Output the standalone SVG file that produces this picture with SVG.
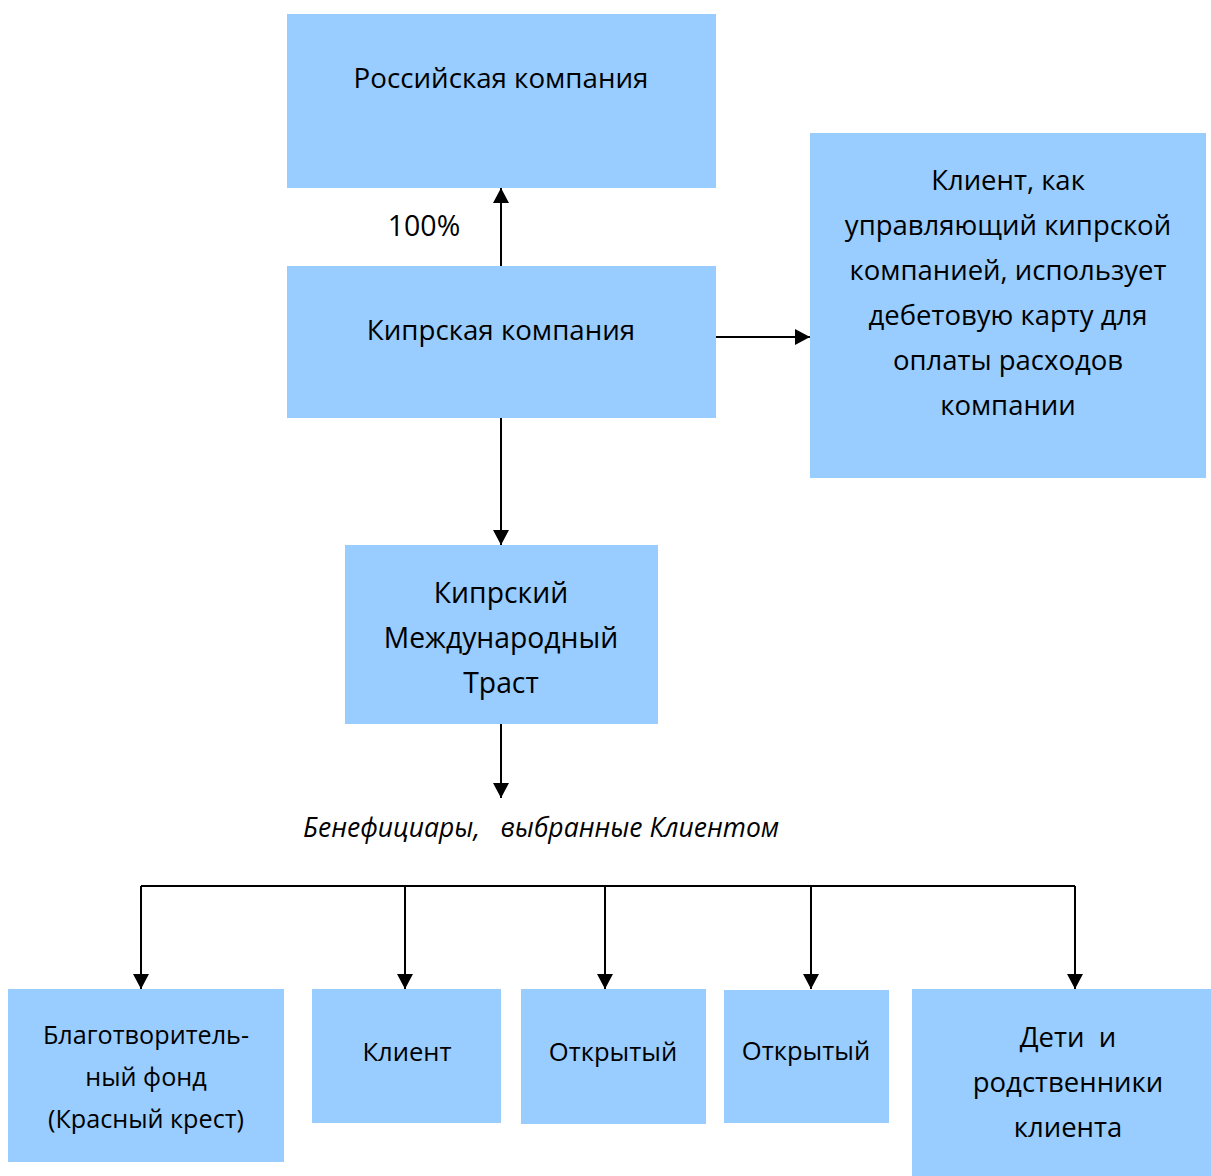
<svg xmlns="http://www.w3.org/2000/svg" width="1211" height="1176" viewBox="0 0 1211 1176">
<style>
.box{fill:#99CCFF}
.t{font-family:"Open Sans","Noto Sans",sans-serif;fill:#000;text-anchor:middle;white-space:pre}
.a{font-size:27.7px}
.r{font-size:27.5px}
.tr{font-size:28.3px}
.c{font-size:25.2px}
.d{font-size:25.6px}
.p{font-size:28.5px}
.i{font-family:"Open Sans","Noto Sans",sans-serif;font-style:italic;font-size:26.5px;white-space:pre}
.ln{stroke:#000;stroke-width:2;fill:none}
</style>
<defs>
<marker id="ar" viewBox="0 0 15 16" refX="15" refY="8" markerWidth="15" markerHeight="16" markerUnits="userSpaceOnUse" orient="auto">
<path d="M0,0 L15,8 L0,16 Z" fill="#000"/>
</marker>
</defs>
<rect width="1211" height="1176" fill="#fff"/>
<g id="n-russian"><rect class="box" x="287" y="14" width="429" height="174"/><text class="t a" x="501" y="88">Российская компания</text></g>
<g id="n-cyprus"><rect class="box" x="287" y="266" width="429" height="152"/><text class="t a" x="501" y="340">Кипрская компания</text></g>
<g id="n-client-mgr"><rect class="box" x="810" y="133" width="396" height="345"/>
<text class="t r" x="1008"><tspan x="1008" y="190">Клиент, как</tspan><tspan x="1008" y="235">управляющий кипрской</tspan><tspan x="1008" y="280">компанией, использует</tspan><tspan x="1008" y="325">дебетовую карту для</tspan><tspan x="1008" y="370">оплаты расходов</tspan><tspan x="1008" y="415">компании</tspan></text></g>
<g id="n-trust"><rect class="box" x="345" y="545" width="313" height="179"/>
<text class="t tr" x="501"><tspan x="501" y="603">Кипрский</tspan><tspan x="501" y="648">Международный</tspan><tspan x="501" y="693">Траст</tspan></text></g>
<g id="n-charity"><rect class="box" x="8" y="989" width="276" height="173"/>
<text class="t c" x="146"><tspan x="146" y="1044">Благотворитель-</tspan><tspan x="146" y="1086">ный фонд</tspan><tspan x="146" y="1128">(Красный крест)</tspan></text></g>
<g id="n-client"><rect class="box" x="312" y="989" width="189" height="134"/><text class="t d" x="407" y="1061">Клиент</text></g>
<g id="n-open1"><rect class="box" x="521" y="989" width="185" height="135"/><text class="t d" x="613" y="1061">Открытый</text></g>
<g id="n-open2"><rect class="box" x="724" y="990" width="165" height="133"/><text class="t d" x="806" y="1060">Открытый</text></g>
<g id="n-children"><rect class="box" x="912" y="989" width="299" height="187"/>
<text class="t r" x="1068"><tspan x="1068" y="1047">Дети  и</tspan><tspan x="1068" y="1092">родственники</tspan><tspan x="1068" y="1137">клиента</tspan></text></g>
<g id="labels">
<text class="t p" x="424" y="236">100%</text>
<text class="i" x="303" y="837">Бенефициары,   выбранные Клиентом</text>
</g>
<g id="connectors">
<line class="ln" x1="501" y1="266" x2="501" y2="188" marker-end="url(#ar)"/>
<line class="ln" x1="716" y1="337" x2="810" y2="337" marker-end="url(#ar)"/>
<line class="ln" x1="501" y1="418" x2="501" y2="545" marker-end="url(#ar)"/>
<line class="ln" x1="501" y1="724" x2="501" y2="798" marker-end="url(#ar)"/>
<polyline class="ln" points="141,886 1075,886"/>
<line class="ln" x1="141" y1="886" x2="141" y2="989" marker-end="url(#ar)"/>
<line class="ln" x1="405" y1="886" x2="405" y2="989" marker-end="url(#ar)"/>
<line class="ln" x1="605" y1="886" x2="605" y2="989" marker-end="url(#ar)"/>
<line class="ln" x1="811" y1="886" x2="811" y2="989" marker-end="url(#ar)"/>
<line class="ln" x1="1075" y1="886" x2="1075" y2="989" marker-end="url(#ar)"/>
</g>
</svg>
